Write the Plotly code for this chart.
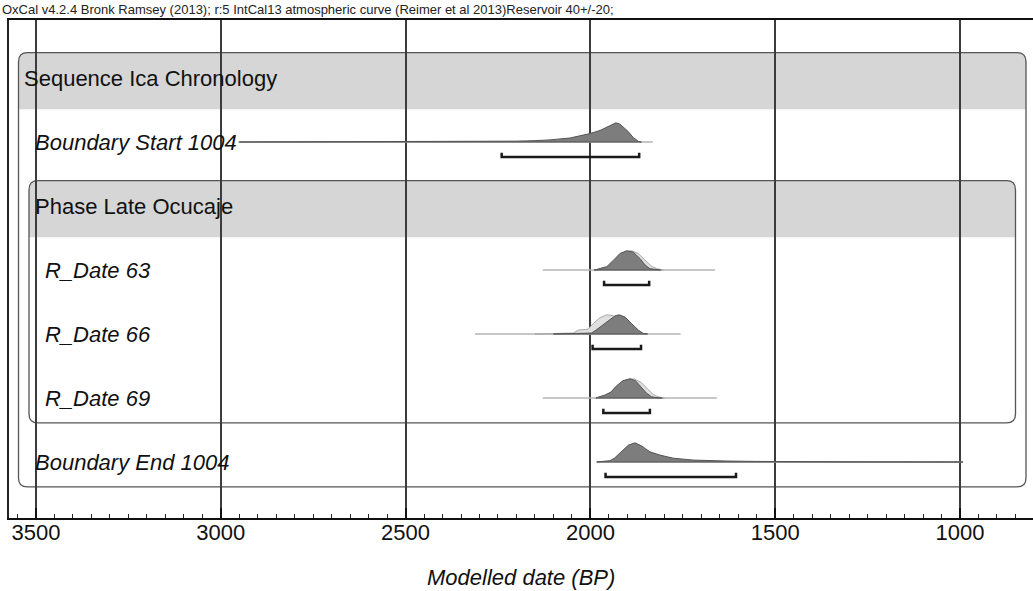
import plotly.graph_objects as go

# ---------------- data ----------------
row_labels = ["Sequence Ica Chronology", "Boundary Start 1004", "Phase Late Ocucaje",
              "R_Date 63", "R_Date 66", "R_Date 69", "Boundary End 1004"]
row_is_header = [True, False, True, False, False, False, False]
row_indent_px = [24, 35, 35, 45, 45, 45, 35]

# modelled (dark) distributions: years BP and relative density
bs_years = [2950, 2700, 2500, 2400, 2300, 2200, 2150, 2109, 2055, 2001, 1974, 1947, 1931, 1920, 1911, 1897, 1884, 1870, 1862]
bs_dens = [0, 0.003, 0.01, 0.02, 0.03, 0.045, 0.07, 0.11, 0.21, 0.44, 0.6, 0.86, 1.0, 0.93, 0.79, 0.53, 0.23, 0.03, 0]

r63_years = [1990, 1983, 1970, 1956, 1938, 1920, 1902, 1884, 1866, 1852, 1839, 1821, 1810]
r63_dens = [0, 0.02, 0.1, 0.17, 0.5, 0.86, 1.0, 0.93, 0.6, 0.26, 0.07, 0.01, 0]
r63u_years = [1990, 1970, 1956, 1938, 1920, 1902, 1888, 1870, 1852, 1835, 1820, 1803]
r63u_dens = [0, 0.08, 0.15, 0.42, 0.8, 0.98, 1.0, 0.85, 0.5, 0.2, 0.06, 0]

r66_years = [2100, 2050, 2010, 1997, 1985, 1974, 1960, 1951, 1933, 1922, 1906, 1888, 1870, 1857, 1845]
r66_dens = [0, 0.01, 0.02, 0.05, 0.2, 0.35, 0.55, 0.7, 0.95, 1.0, 0.88, 0.53, 0.2, 0.03, 0]
r66u_years = [2150, 2091, 2046, 2033, 2006, 1992, 1974, 1956, 1938, 1911, 1888, 1866, 1850]
r66u_dens = [0, 0.01, 0.05, 0.2, 0.25, 0.55, 0.85, 1.0, 0.95, 0.55, 0.2, 0.03, 0]

r69_years = [1985, 1975, 1960, 1945, 1930, 1912, 1893, 1878, 1862, 1848, 1835, 1820, 1806]
r69_dens = [0, 0.05, 0.16, 0.3, 0.62, 0.9, 1.0, 0.9, 0.58, 0.25, 0.07, 0.01, 0]
r69u_years = [1985, 1960, 1945, 1930, 1912, 1893, 1880, 1862, 1845, 1830, 1815, 1800]
r69u_dens = [0, 0.14, 0.3, 0.58, 0.88, 1.0, 0.98, 0.8, 0.45, 0.18, 0.05, 0]

be_years = [1983, 1960, 1947, 1935, 1920, 1905, 1897, 1879, 1861, 1850, 1839, 1812, 1776, 1722, 1680, 1631, 1550, 1496, 1400, 1270, 1100, 992]
be_dens = [0, 0.02, 0.07, 0.2, 0.45, 0.75, 0.88, 1.0, 0.83, 0.68, 0.53, 0.36, 0.2, 0.1, 0.07, 0.05, 0.03, 0.02, 0.012, 0.005, 0.002, 0]

# baseline extents (from, to) and 95.4% ranges (from, to), years BP
baseline_from = [2953, 2129, 2312, 2129, 1983]
baseline_to = [1831, 1663, 1756, 1658, 992]
range_from = [2240, 1963, 1994, 1965, 1959]
range_to = [1868, 1841, 1863, 1839, 1606]
dist_rows = [1, 3, 4, 5, 6]

modelled = [(bs_years, bs_dens), (r63_years, r63_dens), (r66_years, r66_dens),
            (r69_years, r69_dens), (be_years, be_dens)]
unmodelled = [None, (r63u_years, r63u_dens), (r66u_years, r66u_dens),
              (r69u_years, r69u_dens), None]

tick_vals = [3500, 3000, 2500, 2000, 1500, 1000]
x_range = [3573, 802.5]

title_text = "OxCal v4.2.4 Bronk Ramsey (2013); r:5 IntCal13 atmospheric curve (Reimer et al 2013)Reservoir 40+/-20;"
x_title = "Modelled date (BP)"

# ---------------- layout constants ----------------
W, H = 1033, 591
ML, MR, MT, MB = 9, 0, 20, 73
PW = W - ML - MR
PH = H - MT - MB
ROW_PX = 64.0
y_top = -(78 - MT) / ROW_PX
y_bot = y_top + PH / ROW_PX
DH = 0.30        # distribution height in rows
BR = 0.234       # bracket offset
BT = 0.065       # bracket tick
FONT = "Liberation Sans, Arial, sans-serif"

def px2paper(px):
    return (px - ML) / PW

fig = go.Figure()

# distributions
for i, r in enumerate(dist_rows):
    fig.add_trace(go.Scatter(x=[baseline_from[i], baseline_to[i]], y=[r, r], mode="lines",
                             line=dict(color="#b4b4b4", width=1.5), hoverinfo="skip", showlegend=False))
    if unmodelled[i] is not None:
        ys, ds = unmodelled[i]
        fig.add_trace(go.Scatter(x=list(ys) + [ys[-1], ys[0]],
                                 y=[r - DH * d for d in ds] + [r, r],
                                 mode="lines", fill="toself", fillcolor="#e0e0e0",
                                 line=dict(color="#a8a8a8", width=1), hoverinfo="skip", showlegend=False))
    ys, ds = modelled[i]
    fig.add_trace(go.Scatter(x=list(ys) + [ys[-1], ys[0]],
                             y=[r - DH * d for d in ds] + [r, r],
                             mode="lines", fill="toself", fillcolor="#7d7d7d",
                             line=dict(color="#555555", width=1), hoverinfo="skip", showlegend=False))
    yb = r + BR
    fig.add_trace(go.Scatter(x=[range_from[i], range_from[i], range_to[i], range_to[i]],
                             y=[yb - BT, yb, yb, yb - BT], mode="lines",
                             line=dict(color="#1a1a1a", width=2.5), hoverinfo="skip", showlegend=False))

# ---------------- shapes: rounded boxes ----------------
def rrect(x0, x1, y0, y1, rx, ry):
    return (f"M {x0+rx},{y0} L {x1-rx},{y0} Q {x1},{y0} {x1},{y0+ry} L {x1},{y1-ry} "
            f"Q {x1},{y1} {x1-rx},{y1} L {x0+rx},{y1} Q {x0},{y1} {x0},{y1-ry} "
            f"L {x0},{y0+ry} Q {x0},{y0} {x0+rx},{y0} Z")

def band(x0, x1, y0, yb, rx, ry):
    return (f"M {x0+rx},{y0} L {x1-rx},{y0} Q {x1},{y0} {x1},{y0+ry} L {x1},{yb} "
            f"L {x0},{yb} L {x0},{y0+ry} Q {x0},{y0} {x0+rx},{y0} Z")

rx = 9 / PW
ry = 9 / ROW_PX
boxes = [  # (left px, right px, header row, last row)
    (18.5, 1026, 0, 6),
    (29, 1015.5, 2, 5),
]
shapes = []
for (lpx, rpx, hr, lr) in boxes:
    x0, x1 = px2paper(lpx), px2paper(rpx)
    shapes.append(dict(type="path", path=band(x0, x1, hr - 0.395, hr + 0.49, rx, ry),
                       xref="paper", yref="y", fillcolor="#d6d6d6", line=dict(width=0), layer="below"))
for (lpx, rpx, hr, lr) in boxes:
    x0, x1 = px2paper(lpx), px2paper(rpx)
    shapes.append(dict(type="path", path=rrect(x0, x1, hr - 0.395, lr + 0.39, rx, ry),
                       xref="paper", yref="y", line=dict(color="#555555", width=1.3), layer="below"))

# ---------------- annotations ----------------
annotations = []
for r, (lab, hdr, ind) in enumerate(zip(row_labels, row_is_header, row_indent_px)):
    annotations.append(dict(
        x=px2paper(ind - 2), y=r, xref="paper", yref="y", xanchor="left", yanchor="middle",
        text=lab if hdr else f"<i>{lab}</i>", showarrow=False,
        font=dict(family=FONT, size=22, color="#111111")))
annotations.append(dict(x=px2paper(0), y=1 + 10 / PH, xref="paper", yref="paper",
                        xanchor="left", yanchor="middle", text=title_text, showarrow=False,
                        font=dict(family=FONT, size=13, color="#222222")))
annotations.append(dict(x=px2paper(521), y=-(577 - 518) / PH, xref="paper", yref="paper",
                        xanchor="center", yanchor="middle", text=f"<i>{x_title}</i>", showarrow=False,
                        font=dict(family=FONT, size=22, color="#111111")))

fig.update_layout(
    width=W, height=H, margin=dict(l=ML, r=MR, t=MT, b=MB, pad=0),
    paper_bgcolor="white", plot_bgcolor="white",
    shapes=shapes, annotations=annotations, showlegend=False,
    xaxis=dict(range=x_range, tickvals=tick_vals, ticktext=[str(v) for v in tick_vals],
               ticks="inside", ticklen=10, tickwidth=2, tickcolor="#111111",
               ticklabelstandoff=-6,
               showgrid=True, gridcolor="#3c3c3c", gridwidth=1.5, zeroline=False,
               showline=True, linecolor="#111111", linewidth=2, mirror=True,
               tickfont=dict(family=FONT, size=22, color="#111111"),
               minor=dict(dtick=50, tick0=0, ticks="inside", ticklen=4, tickwidth=1,
                          tickcolor="#222222", showgrid=False)),
    yaxis=dict(range=[y_bot, y_top], showgrid=False, zeroline=False, showticklabels=False,
               ticks="", showline=True, linecolor="#222222", linewidth=1.5, mirror=False),
)

fig.write_html("out.html", config={"displayModeBar": False},
               post_script="document.body.style.margin='0';document.body.style.overflow='hidden';")
